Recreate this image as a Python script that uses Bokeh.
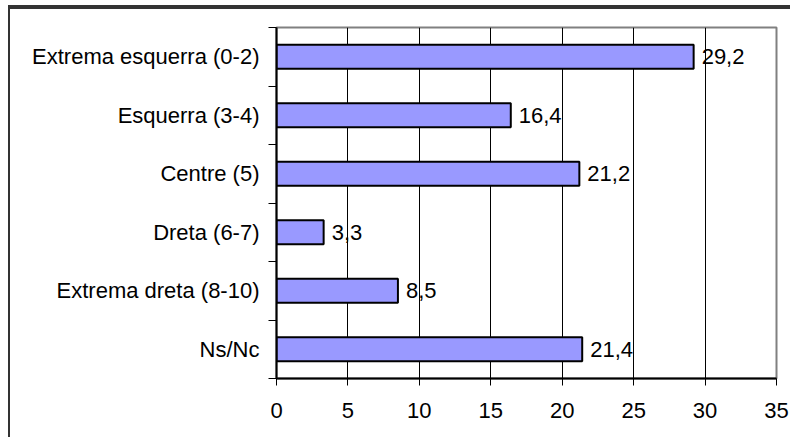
from bokeh.plotting import figure
from bokeh.models import Range1d, FixedTicker, ColumnDataSource
from bokeh.core.properties import value
from bokeh.embed import file_html
from bokeh.resources import INLINE

categories = ["Extrema esquerra (0-2)", "Esquerra (3-4)", "Centre (5)",
              "Dreta (6-7)", "Extrema dreta (8-10)", "Ns/Nc"]
values = [29.2, 16.4, 21.2, 3.3, 8.5, 21.4]
x_ticks = [0, 5, 10, 15, 20, 25, 30, 35]

n = len(categories)
ypos = [n - i - 0.5 for i in range(n)]
labels = [f"{v:.1f}".replace(".", ",") for v in values]

src = ColumnDataSource(dict(y=ypos, v=values, lab=labels, cat=categories))

FONT = "Liberation Sans"
FS = "22px"

p = figure(width=782, height=430, output_backend="svg", toolbar_location=None,
           x_range=Range1d(0, 35), y_range=Range1d(0, n),
           min_border_left=266, min_border_right=16, min_border_top=18, min_border_bottom=61)
p.styles = {"margin-left": "8px", "margin-top": "7px",
            "border-left": "2px solid #333333", "border-top": "2px solid #333333",
            "box-shadow": "0px -2px 0px #333333"}

p.outline_line_color = "#808080"
p.outline_line_width = 2
p.background_fill_color = "white"
p.border_fill_color = "white"

# grid
p.xgrid.ticker = FixedTicker(ticks=x_ticks)
p.xgrid.grid_line_color = "#000000"
p.xgrid.grid_line_width = 1
p.ygrid.grid_line_color = None

# x axis
p.xaxis.ticker = FixedTicker(ticks=x_ticks)
p.xaxis.major_tick_out = 7
p.xaxis.major_tick_in = 0
p.xaxis.minor_tick_line_color = None
p.xaxis.axis_line_color = "black"
p.xaxis.axis_line_width = 2
p.xaxis.major_tick_line_color = "black"
p.xaxis.major_label_text_font = FONT
p.xaxis.major_label_text_font_size = FS
p.xaxis.major_label_text_color = "black"
p.xaxis.major_label_standoff = 17

# y axis: labels at category centres, tick marks at category boundaries
p.yaxis.ticker = FixedTicker(ticks=ypos, minor_ticks=list(range(n + 1)))
p.yaxis.major_label_overrides = {y: c for y, c in zip(ypos, categories)}
p.yaxis.major_tick_out = 0
p.yaxis.major_tick_in = 0
p.yaxis.major_tick_line_color = None
p.yaxis.minor_tick_out = 8
p.yaxis.minor_tick_in = 0
p.yaxis.minor_tick_line_color = "black"
p.yaxis.axis_line_color = "black"
p.yaxis.axis_line_width = 2
p.yaxis.major_label_text_font = FONT
p.yaxis.major_label_text_font_size = FS
p.yaxis.major_label_text_color = "black"
p.yaxis.major_label_standoff = 9

# bars
p.hbar(y="y", right="v", left=0, height=0.41, source=src,
       fill_color="#9999FF", line_color="black", line_width=2)

# value labels
p.text(x="v", y="y", text="lab", source=src, x_offset=8,
       text_font=value(FONT), text_font_size=FS, text_color="black",
       text_baseline="middle", text_align="left")

open("out.html", "w").write(file_html(p, INLINE))
